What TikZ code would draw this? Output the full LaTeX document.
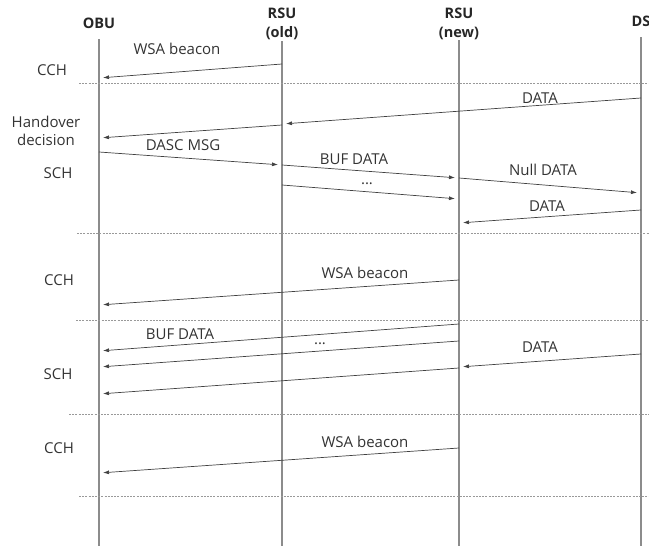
\documentclass[tikz,border=0pt]{standalone}
\usepackage{fontspec}
\setmainfont{Open Sans}
\usetikzlibrary{arrows.meta}

\begin{document}
\begin{tikzpicture}[
        x=1pt, y=-1pt,
        head/.style={font=\fontsize{14.5}{19}\selectfont\bfseries, text=black!85, align=center, inner sep=0pt},
        lbl/.style={font=\fontsize{15}{18}\selectfont, text=black!80, anchor=base, inner sep=0pt},
        side/.style={font=\fontsize{15}{18}\selectfont, text=black!80, align=center, inner sep=0pt},
        life/.style={draw=black!45, line width=1.2pt},
        sep/.style={draw=black!40, line width=0.7pt, dash pattern=on 2pt off 1.2pt},
        msg/.style={-{Latex[length=6pt,width=4pt]}, draw=black!75, line width=0.7pt, shorten >=4pt},
    ]
    \useasboundingbox (0,0) rectangle (649,546);
    % entities
    \node[head] (obu) at (99,23) {OBU};
    \node[head] (old) at (282,23.5) {RSU\\(old)};
    \node[head] (new) at (459,23.5) {RSU\\(new)};
    \node[head] (ds) at (641,21) {DS};
    % lifelines
    \foreach \n/\x/\t in {obu/99/39, old/282/41, new/459/40, ds/641/37} {
        \coordinate (\n-top) at (\x,\t);
        \coordinate (\n-bot) at (\x,546);
        \draw[life] (\n-top) -- (\n-bot);
    }
    % channel intervals
    \foreach \y/\xs in {83/79, 233/77, 320/76, 414/69, 496/79}
        \draw[sep] (\xs,\y) -- (649,\y);
    % messages
    \foreach \i/\xa/\ya/\xb/\yb in {1/282/64/99/78, 2/641/98/282/124, 3/282/125/99/138,
            4/99/152/282/165, 5/282/165/459/178, 6/282/185/459/199, 7/459/178/641/193,
            8/641/210/459/223, 9/459/280/99/305, 10/459/324/99/351, 11/459/341/99/367,
            12/641/354/459/367, 13/459/368/99/394, 14/459/448/99/473} {
        \coordinate (m\i-a) at (\xa,\ya);
        \coordinate (m\i-b) at (\xb,\yb);
        \draw[msg] (m\i-a) -- (m\i-b);
    }
    % message labels
    \node[lbl] (l-wsa1) at (177,54) {WSA beacon};
    \node[lbl] (l-data1) at (540,103) {DATA};
    \node[lbl] (l-dasc) at (183,150) {DASC MSG};
    \node[lbl] (l-buf1) at (354,164) {BUF DATA};
    \node[lbl] (l-dots1) at (367,184) {...};
    \node[lbl] (l-null) at (543,175) {Null DATA};
    \node[lbl] (l-data2) at (547,211) {DATA};
    \node[lbl] (l-wsa2) at (365,278) {WSA beacon};
    \node[lbl] (l-buf2) at (180,339) {BUF DATA};
    \node[lbl] (l-dots2) at (320,344) {...};
    \node[lbl] (l-data3) at (540,352) {DATA};
    \node[lbl] (l-wsa3) at (365,447) {WSA beacon};
    % channels on the left
    \node[lbl] (cch1) at (52,75) {CCH};
    \node[side] (hand) at (46,131) {Handover\\decision};
    \node[lbl] (sch1) at (58,178) {SCH};
    \node[lbl] (cch2) at (59,285) {CCH};
    \node[lbl] (sch2) at (58,379) {SCH};
    \node[lbl] (cch3) at (59,453) {CCH};
\end{tikzpicture}
\end{document}
